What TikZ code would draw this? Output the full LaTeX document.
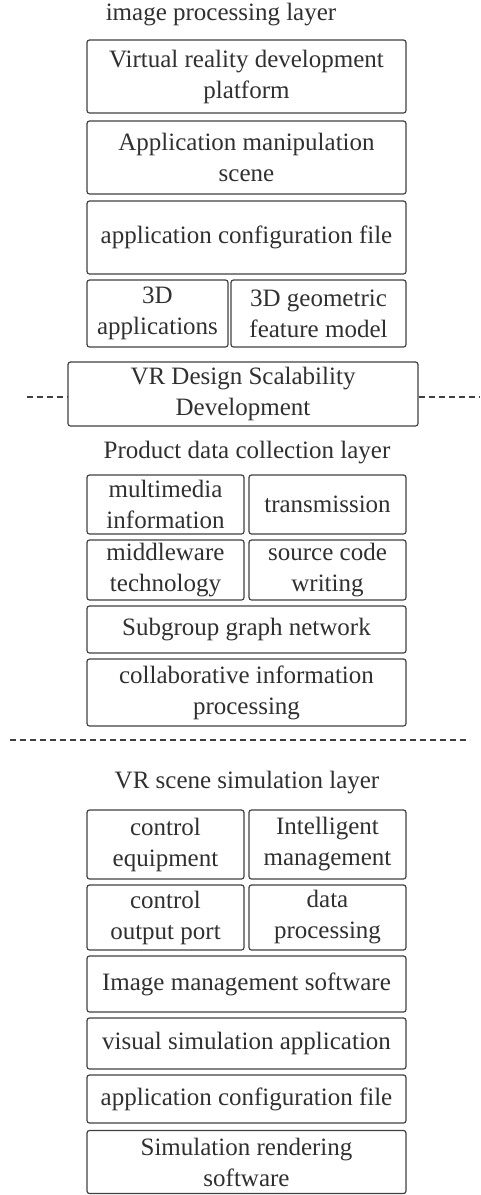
\documentclass[tikz,border=0pt]{standalone}
\usepackage{fontspec}
\setmainfont{Liberation Serif}
\usepackage{tikz}

\definecolor{boxline}{HTML}{404040}
\definecolor{boxtext}{HTML}{303030}

\tikzset{
    layerbox/.style={draw=boxline, line width=1.2pt, rounded corners=2.5pt,
        inner sep=0pt, align=center, text=boxtext,
        font=\fontsize{25}{31}\selectfont},
    layertitle/.style={inner sep=0pt, text=boxtext,
        font=\fontsize{25}{31}\selectfont},
    sepline/.style={draw=boxline, line width=1.2pt, dash pattern=on 6pt off 4pt}
}

\begin{document}
\begin{tikzpicture}[x=1pt, y=-1pt]

    \useasboundingbox (0,0) rectangle (480,1195);

    \node[layertitle] (imgtitle) at (221,15) {image processing layer};

    \node[layerbox, minimum width=319, minimum height=73] (vrplat) at (246.5,76.5)
        {Virtual reality development\\platform};

    \node[layerbox, minimum width=319, minimum height=73] (appscene) at (246.5,157.5)
        {Application manipulation\\scene};

    \node[layerbox, minimum width=319, minimum height=73] (appcfg) at (246.5,237.5)
        {application configuration file};

    \node[layerbox, minimum width=141, minimum height=67] (apps3d) at (157.5,313.5)
        {3D\\applications};

    \node[layerbox, minimum width=175, minimum height=67] (geomodel) at (318.5,313.5)
        {3D geometric\\feature model};



    \node[layerbox, minimum width=350, minimum height=64] (vrd) at (243,394)
        {VR Design Scalability\\Development};

    \coordinate (vrdl) at (27,397);
    \coordinate (vrdr) at (480,397);

    \path[sepline] (vrdl) -- (vrdl -| vrd.west);
    \path[sepline] (vrdr -| vrd.east) -- (vrdr);



    \node[layertitle] (pdctitle) at (247,453) {Product data collection layer};

    \node[layerbox, minimum width=157, minimum height=59] (mminfo) at (165.5,504.5)
        {multimedia\\information};

    \node[layerbox, minimum width=157, minimum height=59] (trans) at (327.5,504.5)
        {transmission};

    \node[layerbox, minimum width=157, minimum height=60] (midtech) at (165.5,570)
        {middleware\\technology};

    \node[layerbox, minimum width=157, minimum height=60] (srccode) at (327.5,570)
        {source code\\writing};

    \node[layerbox, minimum width=319, minimum height=47] (subgraph) at (246.5,629.5)
        {Subgroup graph network};

    \node[layerbox, minimum width=319, minimum height=67] (collab) at (246.5,692.5)
        {collaborative information\\processing};



    \coordinate (sepl) at (10,740);
    \coordinate (sepr) at (470,740);

    \path[sepline] (sepl) -- (sepr);



    \node[layertitle] (simtitle) at (247,783) {VR scene simulation layer};

    \node[layerbox, minimum width=157, minimum height=69] (ctrlequip) at (165.5,844.5)
        {control\\equipment};

    \node[layerbox, minimum width=157, minimum height=69] (intmgmt) at (327.5,844.5)
        {Intelligent\\management};

    \node[layerbox, minimum width=157, minimum height=65] (ctrlport) at (165.5,917.5)
        {control\\output port};

    \node[layerbox, minimum width=157, minimum height=65] (dataproc) at (327.5,917.5)
        {data\\processing};

    \node[layerbox, minimum width=319, minimum height=56] (imgsoft) at (246.5,984)
        {Image management software};

    \node[layerbox, minimum width=319, minimum height=51] (vissim) at (246.5,1043.5)
        {visual simulation application};

    \node[layerbox, minimum width=319, minimum height=48] (appcfgb) at (246.5,1099)
        {application configuration file};

    \node[layerbox, minimum width=319, minimum height=63] (simrender) at (246.5,1162)
        {Simulation rendering\\software};

  \end{tikzpicture}
\end{document}
